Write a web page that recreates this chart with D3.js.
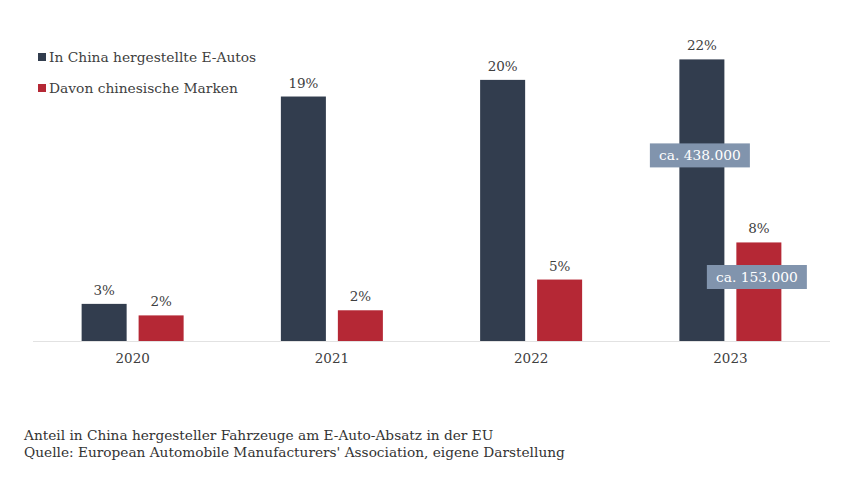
<!DOCTYPE html>
<html>
<head>
<meta charset="utf-8">
<script src="https://cdn.jsdelivr.net/npm/d3@7"></script>
<style>
  body { margin: 0; background: #fff; }
  text { font-family: "DejaVu Serif", serif; }
</style>
</head>
<body>
<div id="chart"></div>
<script>
// Data
const years = ["2020", "2021", "2022", "2023"];
const series = ["In China hergestellte E-Autos", "Davon chinesische Marken"];
const madeInChina = [2.9, 19.1, 20.4, 22.0];
const chineseBrands = [2.0, 2.4, 4.8, 7.7];
const notes = [
  { year: "2023", series: "In China hergestellte E-Autos", text: "ca. 438.000" },
  { year: "2023", series: "Davon chinesische Marken", text: "ca. 153.000" }
];
const footer = [
  "Anteil in China hergesteller Fahrzeuge am E-Auto-Absatz in der EU",
  "Quelle: European Automobile Manufacturers' Association, eigene Darstellung"
];

const width = 853, height = 480;
const baseY = 341;

const svg = d3.select("#chart").append("svg")
    .attr("width", width)
    .attr("height", height)
    .attr("viewBox", `0 0 ${width} ${height}`);

const x = d3.scaleBand()
    .domain(years)
    .range([33, 830])
    .padding(0);

const xs = d3.scaleBand()
    .domain(series)
    .range([-51, 51])
    .paddingInner(0.21);

const y = d3.scaleLinear()
    .domain([0, 25])
    .range([baseY, baseY - 25 * 12.8]);

const color = d3.scaleOrdinal()
    .domain(series)
    .range(["#323d4e", "#b52835"]);

const rows = [];
years.forEach((yr, i) => {
    rows.push({ year: yr, series: series[0], value: madeInChina[i] });
    rows.push({ year: yr, series: series[1], value: chineseBrands[i] });
});

const fmt = v => d3.format(".0f")(v) + "%";

// baseline
svg.append("line")
    .attr("x1", 33).attr("x2", 830)
    .attr("y1", baseY + 0.5).attr("y2", baseY + 0.5)
    .attr("stroke", "#e2e2e2");

// bars
svg.append("g")
    .selectAll("rect")
    .data(rows)
    .join("rect")
    .attr("x", d => x(d.year) + x.bandwidth() / 2 + xs(d.series))
    .attr("width", xs.bandwidth())
    .attr("y", d => y(d.value))
    .attr("height", d => y(0) - y(d.value))
    .attr("fill", d => color(d.series));

// value labels
svg.append("g")
    .selectAll("text")
    .data(rows)
    .join("text")
    .attr("x", d => x(d.year) + x.bandwidth() / 2 + xs(d.series) + xs.bandwidth() / 2)
    .attr("y", d => y(d.value) - 9)
    .attr("text-anchor", "middle")
    .attr("font-size", 13.5)
    .attr("fill", "#404040")
    .text(d => fmt(d.value));

// x axis
const xAxis = svg.append("g")
    .attr("transform", `translate(0,${baseY})`)
    .call(d3.axisBottom(x).tickSize(0).tickPadding(12));
xAxis.select(".domain").remove();
xAxis.selectAll("text")
    .attr("font-family", "DejaVu Serif, serif")
    .attr("font-size", 13.5)
    .attr("fill", "#404040");

// annotation boxes
const noteY = [14.5, 5.0];
const noteG = svg.append("g")
    .selectAll("g")
    .data(notes)
    .join("g")
    .attr("transform", (d, i) =>
        `translate(${x(d.year) + x.bandwidth() / 2 + xs(d.series) + xs.bandwidth() / 2 - 2},${y(noteY[i])})`);
noteG.append("rect")
    .attr("x", -50).attr("y", -12)
    .attr("width", 100).attr("height", 24)
    .attr("fill", "#8194ad");
noteG.append("text")
    .attr("text-anchor", "middle")
    .attr("dy", "0.35em")
    .attr("font-size", 13.8)
    .attr("fill", "#ffffff")
    .text(d => d.text);

// legend
const legend = svg.append("g")
    .selectAll("g")
    .data(series)
    .join("g")
    .attr("transform", (d, i) => `translate(38,${57 + i * 31})`);
legend.append("rect")
    .attr("y", -4).attr("width", 8).attr("height", 8)
    .attr("fill", d => color(d));
legend.append("text")
    .attr("x", 11)
    .attr("dy", "0.35em")
    .attr("font-size", 13.8)
    .attr("fill", "#404040")
    .text(d => d);

// footer
svg.append("g")
    .selectAll("text")
    .data(footer)
    .join("text")
    .attr("x", 24)
    .attr("y", (d, i) => 440 + i * 17)
    .attr("font-size", 13.7)
    .attr("fill", "#333")
    .text(d => d);
</script>
</body>
</html>
